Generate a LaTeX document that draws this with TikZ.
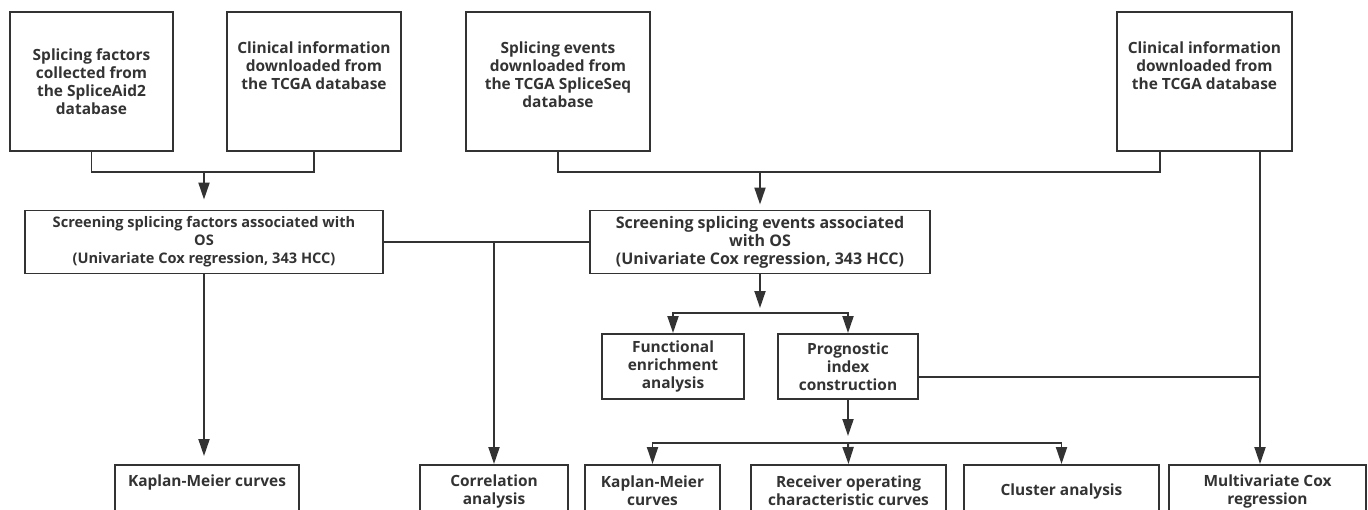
\documentclass[tikz,border=0pt]{standalone}
\usepackage{fontspec}
\setmainfont{Open Sans}
\usetikzlibrary{arrows.meta,positioning}
\definecolor{ink}{HTML}{333333}
\tikzset{
  box/.style={
    draw=ink,
    line width=1.1pt,
    rectangle,
    align=center,
    text=ink,
    font=\fontsize{8.8}{10.24}\selectfont\bfseries,
    inner sep=1pt
  },
  link/.style={draw=ink, line width=1.1pt},
  arrow/.style={
    -{Triangle[length=0.34cm,width=0.22cm]}, draw=ink, line width=1.1pt}
}

\begin{document}
\begin{tikzpicture}[x=0.02cm, y=-0.02cm]
\useasboundingbox (0,0) rectangle (1368,510);
\clip (0,0) rectangle (1368,510);

% --- Data sources (top row) ---
\node[box, minimum width=3.26cm, minimum height=2.78cm] (sf) at (91.5,81.5)
  {Splicing factors\\collected from\\the SpliceAid2\\database};
\node[box, minimum width=3.48cm, minimum height=2.78cm, text depth=0.62cm] (ci1) at (314,81.5)
  {Clinical information\\downloaded from\\the TCGA database};
\node[box, minimum width=3.68cm, minimum height=2.78cm, text depth=0.27cm] (se) at (558,81.5)
  {Splicing events\\downloaded from\\the TCGA SpliceSeq\\database};
\node[box, minimum width=3.5cm, minimum height=2.78cm, text depth=0.62cm] (ci2) at (1204.5,81.5)
  {Clinical information\\downloaded from\\the TCGA database};

% --- Screening (middle row) ---
\node[box, minimum width=7.16cm, minimum height=1.26cm,
      font=\fontsize{8.3}{10.24}\selectfont\bfseries] (scrF) at (204,242)
  {Screening splicing factors associated with\\OS\\(Univariate Cox regression, 343 HCC)};
\node[box, minimum width=6.8cm, minimum height=1.26cm,
      font=\fontsize{9.1}{10.24}\selectfont\bfseries] (scrE) at (760,242)
  {Screening splicing events associated\\with OS\\(Univariate Cox regression, 343 HCC)};

\node[box, minimum width=2.84cm, minimum height=1.3cm] (func) at (673,366.5)
  {Functional\\enrichment\\analysis};
\node[box, minimum width=2.8cm, minimum height=1.3cm] (prog) at (848,366.5)
  {Prognostic\\index\\construction};

% --- Analyses (bottom row) ---
\node[box, minimum width=3.68cm, minimum height=1.04cm, text depth=0.41cm] (km1) at (207,491)
  {Kaplan-Meier curves};
\node[box, minimum width=2.96cm, minimum height=1.04cm] (corr) at (494,491)
  {Correlation\\analysis};
\node[box, minimum width=2.7cm, minimum height=1.04cm] (km2) at (652.5,491)
  {Kaplan-Meier\\curves};
\node[box, minimum width=3.9cm, minimum height=1.04cm] (roc) at (848.5,491)
  {Receiver operating\\characteristic curves};
\node[box, minimum width=3.9cm, minimum height=1.04cm] (clus) at (1061.5,491)
  {Cluster analysis};
\node[box, minimum width=3.94cm, minimum height=1.04cm] (mcox) at (1267.5,491)
  {Multivariate Cox\\regression};

% --- Junctions ---
\coordinate (j1) at (204,172);
\coordinate (j2) at (760,172);
\coordinate (j3) at (760,313);
\coordinate (j4) at (848,443);
\coordinate (j5) at (1260,377);

% --- Connectors ---
\draw[link] (sf.south) |- (j1) -| (ci1.south);
\draw[arrow, shorten >=0.2cm] (j1) -- (scrF.north);
\draw[link] (se.south) |- (j2) -| ([xshift=-0.89cm]ci2.south);
\draw[arrow, shorten >=0.1cm] (j2) -- (scrE.north);

\draw[link] (scrF.east) -- (scrE.west);
\draw[arrow] (corr.north |- scrF.east) -- (corr.north);
\draw[arrow, shorten >=0.16cm] (scrF.south) -- (scrF.south |- km1.north);

\draw[arrow, shorten >=0.1cm] (scrE.south) -- (j3);
\draw[arrow] (j3) -| (func.north);
\draw[arrow] (j3) -| (prog.north);

\draw[arrow, shorten >=0.14cm] (prog.south) -- (j4);
\draw[arrow] (j4) -| (km2.north);
\draw[arrow] (j4) -- (roc.north);
\draw[arrow] (j4) -| (clus.north);

\draw[link] ([yshift=-0.21cm]prog.east) -- (j5);
\draw[arrow] ([xshift=1.11cm]ci2.south) -- (j5 |- mcox.north);

\end{tikzpicture}
\end{document}
